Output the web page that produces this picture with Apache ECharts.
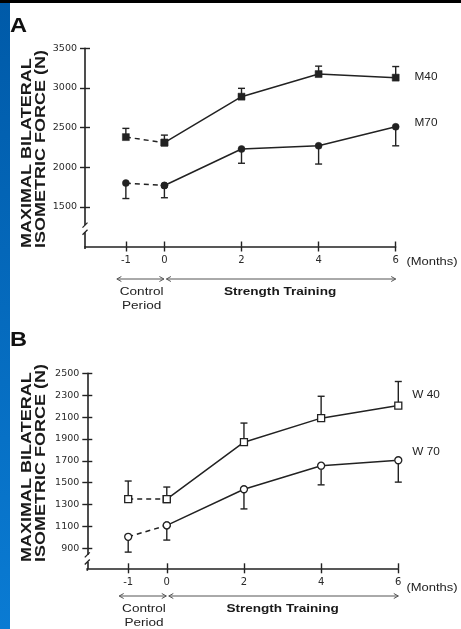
<!DOCTYPE html>
<html><head><meta charset="utf-8">
<script src="https://cdn.jsdelivr.net/npm/echarts@6/dist/echarts.min.js"></script>
<style>html,body{margin:0;padding:0;background:#fff}#c{width:461px;height:629px}</style>
</head><body><div id="c"></div>
<script>
// ---- data ----
const months = [-1, 0, 2, 4, 6];
const monthTicks = [-1, 0, 2, 4, 6];
const forceTicksA = [1500, 2000, 2500, 3000, 3500];
const forceTicksB = [900, 1100, 1300, 1500, 1700, 1900, 2100, 2300, 2500];
const m40 = [2380, 2310, 2890, 3175, 3130];
const m40Upper = [2490, 2405, 2995, 3275, 3270];
const m70 = [1800, 1770, 2230, 2270, 2510];
const m70Lower = [1605, 1615, 2050, 2040, 2270];
const w40 = [1350, 1350, 1870, 2090, 2205];
const w40Upper = [1515, 1460, 2045, 2290, 2425];
const w70 = [1005, 1110, 1440, 1655, 1705];
const w70Lower = [865, 975, 1260, 1480, 1505];
const controlIdx = [0, 1];
const trainingIdx = [1, 2, 3, 4];

// ---- style ----
const INK = '#222222';
const FONT = 'Liberation Sans, Arial, sans-serif';
const xMin = -2.06;

const chart = echarts.init(document.getElementById('c'), null, {renderer: 'canvas'});

function xAxisPair(gridIndex) {
  const base = {type: 'value', gridIndex, min: xMin, max: 6, position: 'bottom', offset: 0, splitLine: {show: false}};
  return [
    Object.assign({}, base, {
      axisLine: {show: true, onZero: false, lineStyle: {color: INK, width: 1.6}},
      axisTick: {show: true, customValues: monthTicks, length: 5, lineStyle: {color: INK, width: 1.4}},
      axisLabel: {show: true, customValues: monthTicks, color: '#2a2a2a', fontFamily: 'DejaVu Sans', fontSize: 10, margin: 9, formatter: v => String(v)}
    }),
    Object.assign({}, base, {
      axisLine: {show: false, onZero: false},
      axisTick: {show: true, inside: true, customValues: monthTicks, length: 5, lineStyle: {color: INK, width: 1.4}},
      axisLabel: {show: false}
    })
  ];
}
function yAxisPair(gridIndex, min, max, ticks) {
  const base = {type: 'value', gridIndex, min, max, position: 'left', offset: 0, splitLine: {show: false}};
  return [
    Object.assign({}, base, {
      axisLine: {show: true, onZero: false, lineStyle: {color: INK, width: 1.6}},
      axisTick: {show: true, customValues: ticks, length: 5, lineStyle: {color: INK, width: 1.4}},
      axisLabel: {show: true, customValues: ticks, color: '#2a2a2a', fontFamily: 'DejaVu Sans', fontSize: 9.5, margin: 8, formatter: v => String(v)}
    }),
    Object.assign({}, base, {
      axisLine: {show: false, onZero: false},
      axisTick: {show: true, inside: true, customValues: ticks, length: 5, lineStyle: {color: INK, width: 1.4}},
      axisLabel: {show: false}
    })
  ];
}

function pts(vals, idx) { return idx.map(i => [months[i], vals[i]]); }

function lineSeries(axis, vals, symbol, open) {
  const common = {
    type: 'line', xAxisIndex: axis, yAxisIndex: axis, z: 3,
    symbol, symbolSize: 7, showSymbol: true, animation: false, silent: true,
    itemStyle: open ? {color: '#fff', borderColor: INK, borderWidth: 1.3} : {color: INK, borderColor: INK, borderWidth: 0.5}
  };
  return [
    Object.assign({}, common, {data: pts(vals, controlIdx), lineStyle: {color: INK, width: 1.5, type: [5, 4]}}),
    Object.assign({}, common, {data: pts(vals, trainingIdx), lineStyle: {color: INK, width: 1.5}})
  ];
}

function errSeries(axis, vals, ends) {
  return {
    type: 'custom', xAxisIndex: axis, yAxisIndex: axis, z: 2, animation: false, silent: true,
    encode: {x: 0, y: [1, 2]},
    data: months.map((m, i) => [m, vals[i], ends[i]]),
    renderItem: (params, api) => {
      const p0 = api.coord([api.value(0), api.value(1)]);
      const p1 = api.coord([api.value(0), api.value(2)]);
      const st = {stroke: INK, lineWidth: 1.4};
      return {type: 'group', children: [
        {type: 'line', shape: {x1: p0[0], y1: p0[1], x2: p1[0], y2: p1[1]}, style: st},
        {type: 'line', shape: {x1: p1[0] - 3.5, y1: p1[1], x2: p1[0] + 3.5, y2: p1[1]}, style: st}
      ]};
    }
  };
}

const xs = xAxisPair(0).concat(xAxisPair(1));
const ys = yAxisPair(0, 1000, 3500, forceTicksA).concat(yAxisPair(1, 717, 2500, forceTicksB));

chart.setOption({
  backgroundColor: '#ffffff',
  animation: false,
  grid: [
    {left: 85, top: 48.3, width: 310.7, height: 198.2, containLabel: false, outerBoundsMode: 'none'},
    {left: 87.3, top: 373.3, width: 311, height: 195, containLabel: false, outerBoundsMode: 'none'}
  ],
  xAxis: xs,
  yAxis: ys,
  series: [
    errSeries(0, m40, m40Upper),
    errSeries(0, m70, m70Lower),
    errSeries(2, w40, w40Upper),
    errSeries(2, w70, w70Lower)
  ].concat(
    lineSeries(0, m40, 'rect', false),
    lineSeries(0, m70, 'circle', false),
    lineSeries(2, w40, 'rect', true),
    lineSeries(2, w70, 'circle', true)
  )
});

// ---- decorations (text, arrows, axis breaks) ----
const px = (g, v) => chart.convertToPixel({xAxisIndex: g * 2}, v);
const py = (g, v) => chart.convertToPixel({yAxisIndex: g * 2}, v);
const SX = 1.18;
const g = [];

g.push({type: 'rect', shape: {x: 0, y: 0, width: 461, height: 3}, style: {fill: '#000'}, z: 10});
g.push({type: 'rect', shape: {x: 0, y: 3, width: 10, height: 626},
  style: {fill: new echarts.graphic.LinearGradient(0, 0, 0, 1, [{offset: 0, color: '#005aa8'}, {offset: 1, color: '#0a7bd3'}])}, z: 10});

function text(t, x, y, opts) {
  return Object.assign({type: 'text', x, y, z: 10, scaleX: SX,
    style: Object.assign({text: t, fill: '#222', font: '11px ' + FONT, align: 'center', verticalAlign: 'middle'}, opts || {})});
}

const panels = [
  {gi: 0, letter: 'A', letterY: 26, titleY: 248, breakVals: [1270, 1180], arrowY: 279, t1: 291.5, t2: 306,
   labels: [['M40', 77], ['M70', 123]]},
  {gi: 1, letter: 'B', letterY: 340, titleY: 562, breakVals: [840, 775], arrowY: 596, t1: 609, t2: 623,
   labels: [['W 40', 395], ['W 70', 452]]}
];

panels.forEach(p => {
  const ax = px(p.gi, xMin);
  const xm1 = px(p.gi, -1), x0 = px(p.gi, 0), x6 = px(p.gi, 6);
  // panel letter
  g.push(text(p.letter, 18.5, p.letterY, {font: 'bold 20px ' + FONT, fill: '#111'}));
  // y title
  g.push({type: 'text', x: 26.5, y: p.titleY, rotation: Math.PI / 2, scaleX: 1.2, z: 10,
    style: {text: 'MAXIMAL BILATERAL', font: 'bold 15px ' + FONT, fill: '#1a1a1a', align: 'left', verticalAlign: 'middle'}});
  g.push({type: 'text', x: 40.5, y: p.titleY, rotation: Math.PI / 2, scaleX: 1.2, z: 10,
    style: {text: 'ISOMETRIC FORCE (N)', font: 'bold 15px ' + FONT, fill: '#1a1a1a', align: 'left', verticalAlign: 'middle'}});
  // axis break
  const b0 = py(p.gi, p.breakVals[0]), b1 = py(p.gi, p.breakVals[1]);
  g.push({type: 'rect', shape: {x: ax - 2, y: b0, width: 4, height: b1 - b0}, style: {fill: '#fff'}, z: 9});
  g.push({type: 'line', shape: {x1: ax - 2.5, y1: b0 + 2.5, x2: ax + 2.5, y2: b0 - 2.5}, style: {stroke: INK, lineWidth: 1.3}, z: 10});
  g.push({type: 'line', shape: {x1: ax - 2.5, y1: b1 + 2.5, x2: ax + 2.5, y2: b1 - 2.5}, style: {stroke: INK, lineWidth: 1.3}, z: 10});
  // small extension of the y axis below the x axis
  const yb = py(p.gi, p.gi === 0 ? 1000 : 717);
  g.push({type: 'line', shape: {x1: ax, y1: yb, x2: ax, y2: yb + 2.5}, style: {stroke: INK, lineWidth: 1.6}, z: 10});
  // (Months)
  g.push(text('(Months)', 432, p.gi === 0 ? 262 : 588, {font: '11px ' + FONT}));
  // series labels
  p.labels.forEach(l => g.push(text(l[0], 426, l[1], {font: '10px ' + FONT})));
  // arrows
  const arrow = (x1, x2, y) => {
    const st = {stroke: '#555', lineWidth: 1, fill: null};
    g.push({type: 'line', shape: {x1, y1: y, x2, y2: y}, style: st, z: 10});
    g.push({type: 'polyline', shape: {points: [[x1 + 4.5, y - 2.5], [x1, y], [x1 + 4.5, y + 2.5]]}, style: st, z: 10});
    g.push({type: 'polyline', shape: {points: [[x2 - 4.5, y - 2.5], [x2, y], [x2 - 4.5, y + 2.5]]}, style: st, z: 10});
  };
  arrow(xm1 - 9, x0 - 0.5, p.arrowY);
  arrow(x0 + 2, x6, p.arrowY);
  // period labels
  const cx = (xm1 - 9 + x0) / 2 + 1;
  g.push(text('Control', cx, p.t1, {font: '11.5px ' + FONT}));
  g.push(text('Period', cx, p.t2, {font: '11.5px ' + FONT}));
  g.push(text('Strength Training', (x0 + x6) / 2, p.t1, {font: 'bold 11.5px ' + FONT, fill: '#1a1a1a'}));
});

chart.setOption({graphic: g});
</script>
</body></html>
